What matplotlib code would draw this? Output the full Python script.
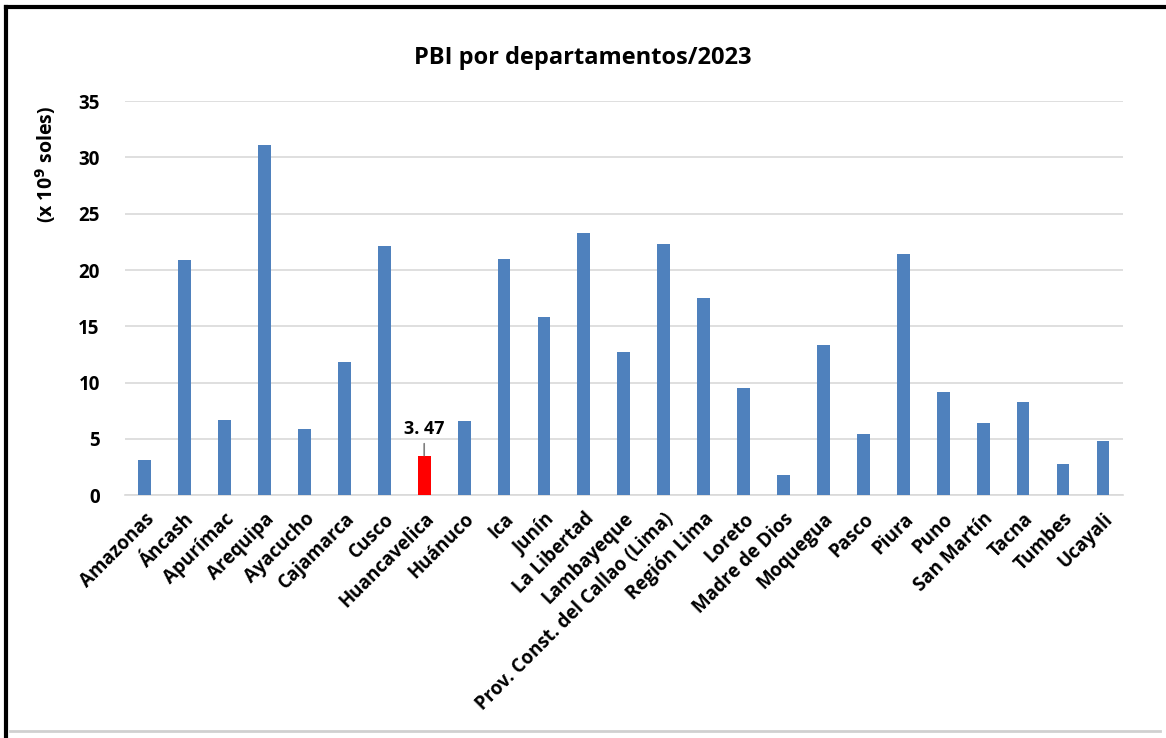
import matplotlib.pyplot as plt
from matplotlib.lines import Line2D

departamentos = ['Amazonas', 'Áncash', 'Apurímac', 'Arequipa', 'Ayacucho', 'Cajamarca',
                 'Cusco', 'Huancavelica', 'Huánuco', 'Ica', 'Junín', 'La Libertad',
                 'Lambayeque', 'Prov. Const. del Callao (Lima)', 'Región Lima', 'Loreto',
                 'Madre de Dios', 'Moquegua', 'Pasco', 'Piura', 'Puno', 'San Martín',
                 'Tacna', 'Tumbes', 'Ucayali']
pbi = [3.1, 20.9, 6.7, 31.1, 5.9, 11.8, 22.1, 3.47, 6.6, 21.0, 15.8, 23.3, 12.7,
       22.3, 17.5, 9.5, 1.8, 13.3, 5.4, 21.4, 9.2, 6.4, 8.3, 2.8, 4.8]
destacado = 'Huancavelica'

plt.rcParams['font.family'] = ['Open Sans', 'DejaVu Sans']

fig = plt.figure(figsize=(11.66, 7.38), dpi=100)
ax = fig.add_axes([0.107, 0.329, 0.856, 0.534])

colores = ['#ff0000' if d == destacado else '#4f81bd' for d in departamentos]
x = range(len(departamentos))
ax.bar(x, pbi, width=0.32, color=colores, zorder=3)

ax.set_xlim(-0.5, len(departamentos) - 0.5)
ax.set_ylim(0, 35)
ax.set_yticks(range(0, 36, 5))
ax.yaxis.grid(True, color='#d9d9d9', linewidth=1.2, zorder=0)
for s in ['top', 'right', 'left']:
    ax.spines[s].set_visible(False)
ax.spines['bottom'].set_color('#d9d9d9')
ax.spines['bottom'].set_linewidth(1.2)
ax.tick_params(axis='y', length=0, labelsize=13.5, pad=18)
ax.tick_params(axis='x', length=0, labelsize=13.5, pad=10)
ax.set_xticks(list(x))
ax.set_xticklabels(departamentos, rotation=45, ha='right', rotation_mode='anchor',
                   fontweight='bold')
for lab in ax.get_yticklabels():
    lab.set_fontweight('bold')

ax.set_ylabel('(x 10$^{\\mathbf{9}}$ soles)', fontsize=14, fontweight='bold')
ax.yaxis.set_label_coords(-0.067, 0.84)
fig.text(0.5, 0.921, 'PBI por departamentos/2023', ha='center', va='center',
         fontsize=17, fontweight='bold')

i = departamentos.index(destacado)
ax.annotate('3. 47', xy=(i, pbi[i] + 0.05), xytext=(i, pbi[i] + 1.6),
            ha='center', va='bottom', fontsize=13, fontweight='bold',
            arrowprops=dict(arrowstyle='-', color='#7f7f7f', lw=1.2, shrinkA=2, shrinkB=0))

# marco
fig.add_artist(Line2D([0.005, 1.0], [0.99, 0.99], color='black', lw=3, transform=fig.transFigure))
fig.add_artist(Line2D([0.005, 0.005], [0.0, 0.99], color='black', lw=3, transform=fig.transFigure))
fig.add_artist(Line2D([0.009, 0.995], [0.009, 0.009], color='#d0d0d0', lw=2, transform=fig.transFigure))

fig.savefig('out.png', dpi=100)
